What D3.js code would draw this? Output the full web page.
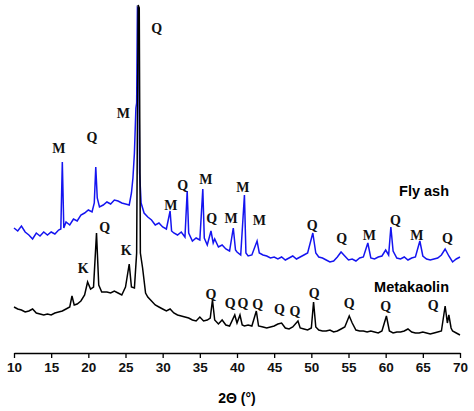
<!DOCTYPE html><html><head><meta charset="utf-8"><script src="https://cdn.jsdelivr.net/npm/d3@7"></script>
<style>body{margin:0;background:#fff}</style></head><body><svg id="c" width="474" height="411"></svg>
<script>
const flyAsh=[[10,125],[10.5,122],[11,127],[11.5,121],[12,118],[12.5,114],[13,120],[13.5,117],[14,121],[14.5,118],[15,121],[15.5,119],[16,123],[16.3,124],[16.5,191],[16.7,125],[17,131],[17.5,128],[18,134],[18.5,132],[19,138],[19.5,140],[20,143],[20.5,141],[20.8,150],[21,186],[21.2,155],[21.5,146],[22,148],[22.5,151],[23,149],[23.5,153],[24,152],[24.5,150],[25,149],[25.5,148],[25.8,160],[26,175],[26.2,200],[26.4,245],[26.5,250],[26.6,345],[26.75,343],[26.9,180],[27.1,150],[27.5,140],[28,136],[28.5,133],[29,128],[29.5,130],[30,126],[30.5,124],[31,142],[31.2,122],[31.5,120],[32,118],[32.5,121],[33,116],[33.3,162],[33.5,120],[34,112],[34.5,115],[35,113],[35.4,164],[35.6,115],[36,108],[36.5,122],[36.8,110],[37,114],[37.5,106],[38,108],[38.5,104],[39,102],[39.5,125],[39.8,103],[40,101],[40.5,98],[41,158],[41.2,100],[41.5,97],[42,98],[42.7,112],[43,100],[43.5,98],[44,97],[44.5,95],[45,96],[45.5,94],[46,96],[46.5,93],[47,95],[47.5,97],[48,94],[48.5,96],[49,98],[49.5,100],[50.2,120],[50.6,100],[51,96],[51.5,95],[52,93],[52.5,91],[53,92],[53.5,96],[54,101],[54.5,97],[55,93],[55.5,94],[56,92],[56.5,95],[57,96],[57.6,110],[58,95],[58.5,94],[59,96],[59.5,97],[60,103],[60.4,98],[60.7,126],[61,102],[61.5,95],[62,94],[62.5,96],[63,93],[63.5,95],[64,96],[64.6,112],[65,97],[65.5,94],[66,93],[66.5,94],[67,95],[67.5,98],[68,104],[68.5,97],[69,91],[69.5,94],[70,96]];
const metakaolin=[[10,46],[10.5,44],[11,43],[11.5,41],[12,42],[12.5,44],[13,40],[13.5,39],[14,38],[14.5,39],[15,38],[15.5,40],[16,41],[16.5,42],[17,44],[17.5,46],[17.8,57],[18.1,48],[18.5,49],[19,52],[19.5,58],[19.9,71],[20.3,64],[20.7,66],[21.1,120],[21.4,68],[21.8,61],[22.5,61],[23,60],[23.5,62],[24,60],[24.5,58],[25,66],[25.5,89],[25.8,66],[26.2,65],[26.5,100],[26.7,348],[26.85,345],[27,100],[27.3,85],[27.7,60],[28,56],[28.5,52],[29,48],[29.5,46],[30,44],[30.5,42],[31,44],[31.5,40],[32,38],[32.5,37],[33,36],[33.5,35],[34,33],[34.5,32],[35,36],[35.5,32],[36,33],[36.4,35],[36.7,53],[37,33],[37.5,29],[38,33],[38.5,28],[39,27],[39.7,38],[40,30],[40.4,38],[40.7,28],[41,27],[41.5,28],[42,27],[42.6,42],[42.9,27],[43.5,26],[44,25],[44.5,26],[45,27],[45.5,29],[46,30],[46.5,25],[47,24],[47.5,26],[48.2,32],[48.5,25],[49,24],[49.5,23],[50,25],[50.3,51],[50.6,26],[51,23],[51.5,22],[52,22],[52.5,23],[53,21],[53.5,22],[54,24],[54.5,26],[55.1,37],[55.5,30],[56,23],[56.5,22],[57,22],[57.5,21],[58,22],[58.5,21],[59,20],[59.5,22],[60.1,37],[60.5,22],[61,20],[61.5,21],[62,21],[62.5,22],[63,24],[63.5,21],[64,20],[64.5,20],[65,21],[65.5,20],[66,19],[66.5,20],[67,21],[67.5,22],[68,47],[68.3,30],[68.5,38],[68.8,25],[69,22],[69.5,20],[70,18]];
const flyAshLabels=[["M",16.05,205],["Q",20.5,216],["M",24.7,240],["Q",29.2,325],["Q",32.7,168],["M",35.8,174],["M",40.8,166],["M",31.1,148],["Q",36.6,135],["M",39.2,135],["M",43.0,133],["Q",50.1,128],["Q",54.1,115],["M",57.8,118],["Q",61.3,133],["M",64.2,118],["Q",68.3,115]];
const mkLabels=[["K",19.3,85],["Q",22.2,126],["K",25.1,103],["Q",36.5,59],["Q",39.1,50],["Q",40.8,50],["Q",42.8,49],["Q",45.7,44],["Q",47.8,42],["Q",50.4,60],["Q",55.1,50],["Q",60.0,47],["Q",66.4,48]];
const xTicks=[10,15,20,25,30,35,40,45,50,55,60,65,70];

const svg=d3.select("#c");
const x=d3.scaleLinear().domain([10,70]).range([14,460]);
const y=d3.scaleLinear().domain([0,353]).range([353,0]);
const line=d3.line().x(d=>x(d[0])).y(d=>y(d[1]));
svg.append("path").datum(flyAsh).attr("d",line).attr("fill","none").attr("stroke","#1414f0").attr("stroke-width",1.5);
svg.append("path").datum(metakaolin).attr("d",line).attr("fill","none").attr("stroke","#000").attr("stroke-width",1.5);
const lab=(arr)=>svg.selectAll(null).data(arr).enter().append("text").attr("x",d=>x(d[1])).attr("y",d=>y(d[2])).attr("dy","0.35em")
 .attr("text-anchor","middle").attr("font-family","Liberation Serif, Times New Roman, serif").attr("font-weight","bold").attr("font-size",14).attr("fill","#111").text(d=>d[0]);
lab(flyAshLabels);lab(mkLabels);
const ax=svg.append("g").attr("transform","translate(0,353)").call(d3.axisBottom(x).tickValues(xTicks).tickSize(5).tickSizeOuter(0).tickPadding(4));
ax.select(".domain").attr("stroke","#000").attr("stroke-width",1.3);
ax.selectAll("line").attr("stroke-width",1.3);
ax.selectAll("text").attr("font-family","Liberation Sans, Arial, sans-serif").attr("font-size",13.5).attr("font-weight","bold").attr("fill","#111");
svg.append("text").attr("x",237).attr("y",403).attr("text-anchor","middle").attr("font-family","Liberation Sans, Arial, sans-serif").attr("font-weight","bold").attr("font-size",14).text("2Θ (°)");
svg.append("text").attr("x",449).attr("y",196).attr("text-anchor","end").attr("font-family","Liberation Sans, Arial, sans-serif").attr("font-weight","bold").attr("font-size",14.5).text("Fly ash");
svg.append("text").attr("x",449).attr("y",292).attr("text-anchor","end").attr("font-family","Liberation Sans, Arial, sans-serif").attr("font-weight","bold").attr("font-size",14.5).text("Metakaolin");
</script></body></html>
